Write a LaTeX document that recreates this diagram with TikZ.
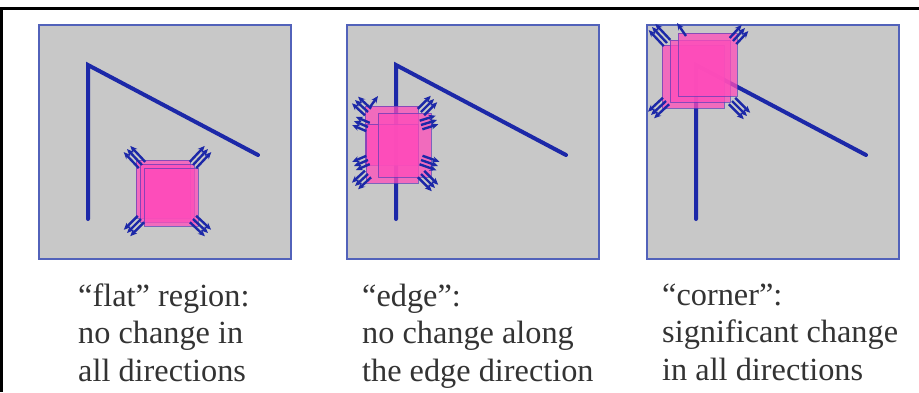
\documentclass[tikz,border=0pt]{standalone}
\usepackage{fontspec}
\setmainfont{Liberation Serif}
\usetikzlibrary{arrows.meta, calc}
\definecolor{panelgray}{HTML}{C8C8C8}
\definecolor{panelrim}{HTML}{5262BA}
\definecolor{edgeblue}{HTML}{1C28A8}
\definecolor{winpink}{HTML}{FF4CBA}
\definecolor{winrim}{HTML}{5A3CB8}
\definecolor{captext}{HTML}{333333}

% fan of three parallel shift arrows: start point, tip point
\newcommand{\shiftfan}[2]{%
  \foreach \k in {-1,0,1}
    \draw[shiftarrow] ($(#1)!\k*4.5pt!90:(#2)$) -- ($(#2)!\k*4.5pt!-90:(#1)$);%
}

\begin{document}
\begin{tikzpicture}[
  x=1pt, y=-1pt,
  >={Stealth[length=7pt, width=6pt]},
  panel/.style={fill=panelgray, draw=panelrim, line width=1.3pt},
  edgeline/.style={draw=edgeblue, line width=4pt},
  window/.style={fill=winpink, fill opacity=0.75, draw=winrim, draw opacity=0.7, line width=0.9pt},
  shiftarrow/.style={->, draw=edgeblue, line width=2.4pt},
  caption/.style={captext, anchor=north west, align=left, inner sep=0pt,
    font=\fontsize{32.3}{37.5}\selectfont}
]

\useasboundingbox (0,0) rectangle (919,392);

% ── Frame ──
\draw[black, line width=3pt] (919,8.5) -- (1.5,8.5) -- (1.5,392);

% ── Panels with the same edge in each ──
\foreach \px in {0,308,608} {
  \draw[panel] (39+\px,25) rectangle (291+\px,259);
  \draw[edgeline, line cap=round, line join=miter]
    (88+\px,219) -- (88+\px,65) -- (258+\px,155);
}

% ── Flat: window away from the edge ──
\draw[window] (136,160) rectangle (190,218);
\draw[window] (140,164) rectangle (194,222);
\draw[window] (144,168) rectangle (198,226);
\shiftfan{142,165}{127,149}
\shiftfan{193,165}{208,149}
\shiftfan{141,219}{127,233}
\shiftfan{193,219}{208,233}

% ── Edge: window on the vertical line ──
\draw[window] (365,106) rectangle (418,165);
\draw[window] (366,124) rectangle (418,183);
\draw[window] (378,113) rectangle (431,177);
\shiftfan{368,112}{355,100}
\shiftfan{368,127}{354,121}
\shiftfan{368,160}{354,166}
\shiftfan{368,174}{355,186}
\shiftfan{421,112}{434,99}
\shiftfan{421,125}{437,120}
\shiftfan{421,160}{438,166}
\shiftfan{421,174}{435,188}
\draw[shiftarrow] (370,107) -- (378,96);

% ── Corner: window on the vertex ──
\draw[window] (662,45) rectangle (724,108);
\draw[window] (670,40) rectangle (730,102);
\draw[window] (678,33) rectangle (737,96);
\shiftfan{667,43}{652,27}
\draw[shiftarrow] (686,36) -- (677,23);
\shiftfan{733,41}{745,28}
\shiftfan{666,101}{651,115}
\shiftfan{732,101}{747,116}

% ── Captions ──
\node[caption] (capflat) at (78,283.5)
  {“flat” region:\\no change in\\all directions};
\node[caption] (capedge) at (362,283.5)
  {“edge”:\\no change along\\the edge direction};
\node[caption] (capcorner) at (662,283.5)
  {“corner”:\\significant change\\in all directions};

\end{tikzpicture}
\end{document}
